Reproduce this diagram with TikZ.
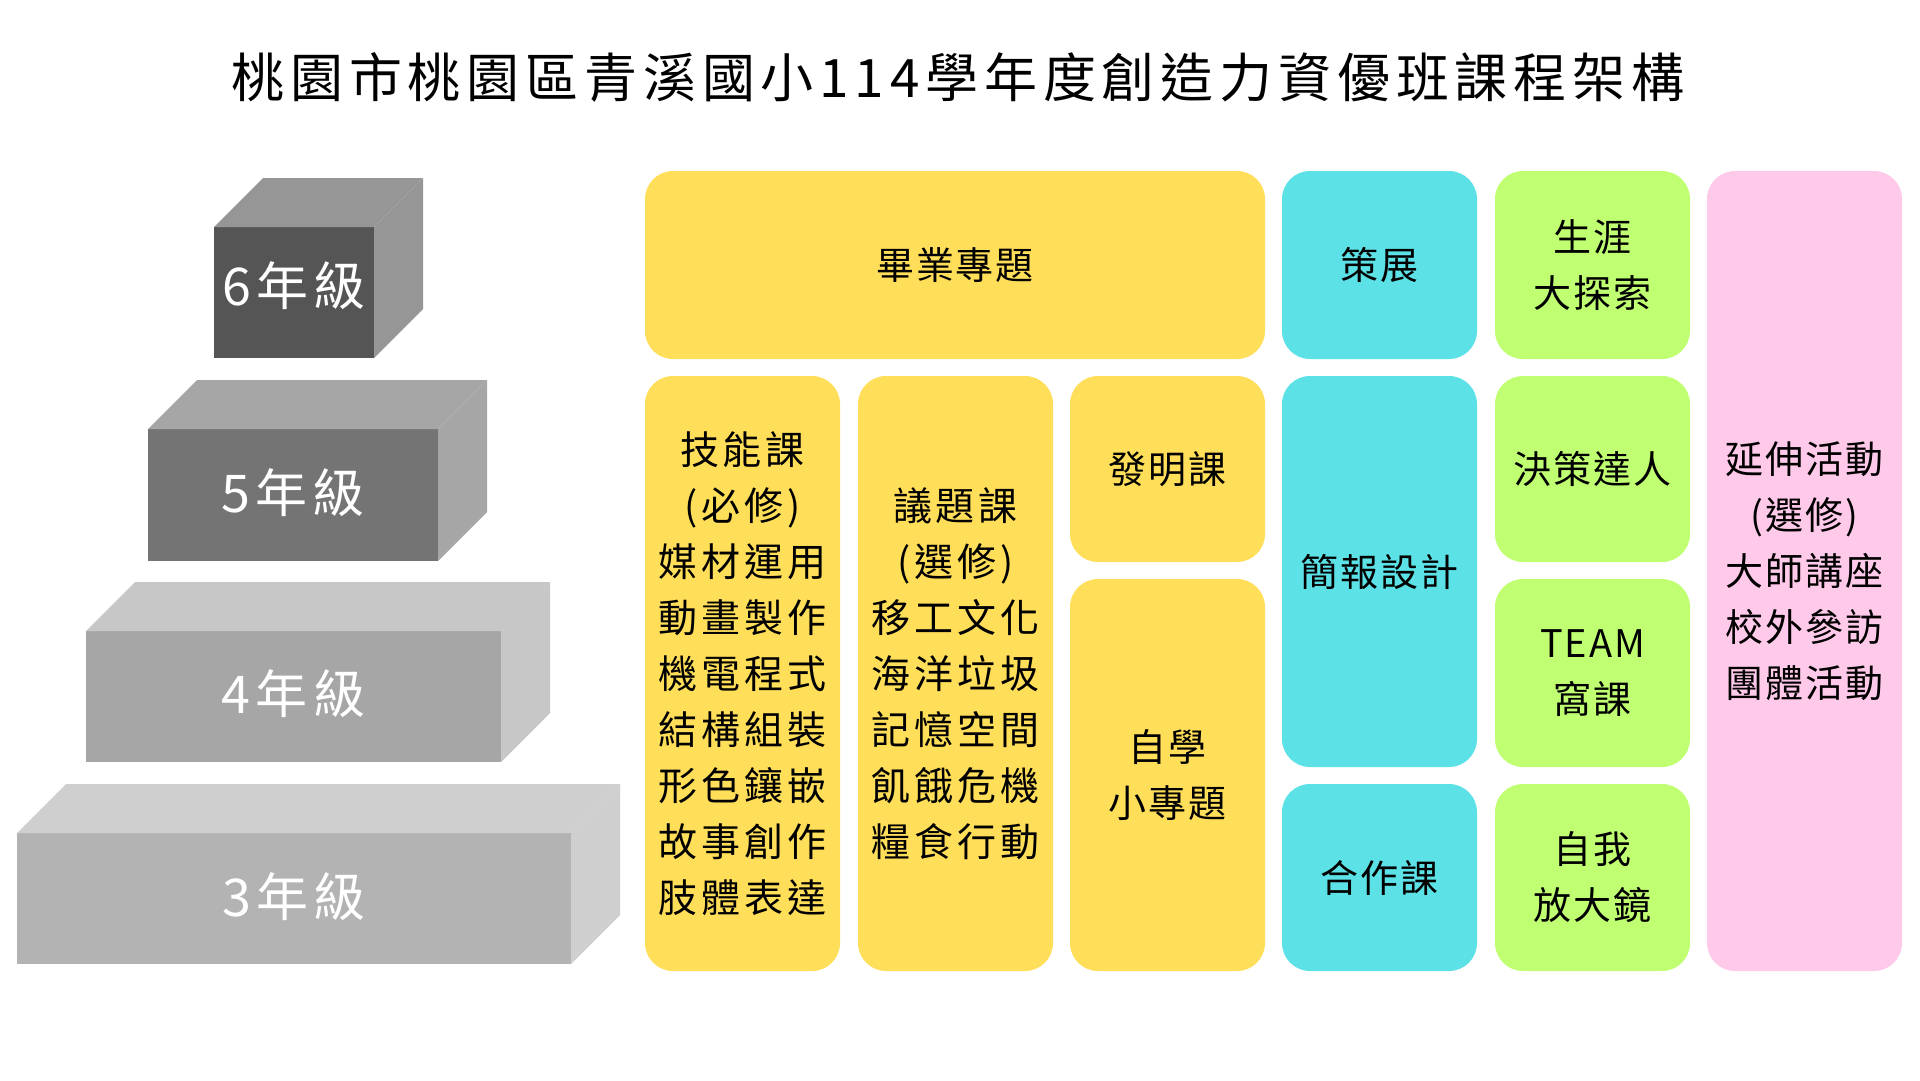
\documentclass[tikz,border=0pt]{standalone}
\usepackage{fontspec}
\setmainfont{Noto Sans CJK TC}
\newfontfamily\titlefam{Noto Sans CJK TC}[LetterSpace=11]
\newfontfamily\widefam{Noto Sans CJK TC}[LetterSpace=10]
\newfontfamily\narrowfam{Noto Sans CJK TC}[LetterSpace=5]
\newfontfamily\gradefam{Noto Sans CJK TC}[LetterSpace=10]
\newcommand\titletext{\titlefam\fontsize{53}{60}\selectfont}
\newcommand\widetext{\widefam\fontsize{39}{56}\selectfont}
\newcommand\narrowtext{\narrowfam\fontsize{38}{56}\selectfont}
\newcommand\gradetext{\gradefam\fontsize{52}{60}\selectfont}
\definecolor{cyY}{HTML}{FFDE59}
\definecolor{cyC}{HTML}{5CE1E6}
\definecolor{cyG}{HTML}{C1FF72}
\definecolor{cyP}{HTML}{FFCAE9}
\definecolor{gsixf}{HTML}{555555}
\definecolor{gsixs}{HTML}{969696}
\definecolor{gfivef}{HTML}{747474}
\definecolor{gfives}{HTML}{A6A6A6}
\definecolor{gfourf}{HTML}{A6A6A6}
\definecolor{gfours}{HTML}{C7C7C7}
\definecolor{gthreef}{HTML}{B3B3B3}
\definecolor{gthrees}{HTML}{CFCFCF}
\begin{document}
\begin{tikzpicture}[x=1pt,y=-1pt,
  cbox/.style={rectangle, rounded corners=28pt, inner sep=0pt, outer sep=0pt,
    align=center, text=black, font=\narrowtext, minimum width=195pt},
  widebox/.style={cbox, font=\widetext},
  front/.style={rectangle, inner sep=0pt, outer sep=0pt},
  gradelabel/.style={inner sep=0pt, text=white, font=\gradetext}]
\fill[white] (0,0) rectangle (1920,1080);
\useasboundingbox (0,0) rectangle (1920,1080);

% title
\node[font=\titletext, text=black, inner sep=0pt] (title) at (958,77) {桃園市桃園區青溪國小114學年度創造力資優班課程架構};

% grade blocks
\node[front, fill=gthreef, minimum width=554pt, minimum height=131pt] (g3) at (294,898.5) {};
\fill[gthrees] (g3.north west) -- ++(49,-49) -- ([shift={(49,-49)}]g3.north east) -- (g3.north east) -- cycle;
\fill[gthrees] (g3.north east) -- ++(49,-49) -- ([shift={(49,-49)}]g3.south east) -- (g3.south east) -- cycle;
\node[gradelabel] (t3) at ([yshift=1.5pt]g3.center) {3年級};

\node[front, fill=gfourf, minimum width=415pt, minimum height=131pt] (g4) at (293.5,696.5) {};
\fill[gfours] (g4.north west) -- ++(49,-49) -- ([shift={(49,-49)}]g4.north east) -- (g4.north east) -- cycle;
\fill[gfours] (g4.north east) -- ++(49,-49) -- ([shift={(49,-49)}]g4.south east) -- (g4.south east) -- cycle;
\node[gradelabel] (t4) at ([yshift=2.5pt]g4.center) {4年級};

\node[front, fill=gfivef, minimum width=290pt, minimum height=132pt] (g5) at (293,495) {};
\fill[gfives] (g5.north west) -- ++(49,-49) -- ([shift={(49,-49)}]g5.north east) -- (g5.north east) -- cycle;
\fill[gfives] (g5.north east) -- ++(49,-49) -- ([shift={(49,-49)}]g5.south east) -- (g5.south east) -- cycle;
\node[gradelabel] (t5) at ([yshift=2.5pt]g5.center) {5年級};

\node[front, fill=gsixf, minimum width=160pt, minimum height=131pt] (g6) at (294,292.5) {};
\fill[gsixs] (g6.north west) -- ++(49,-49) -- ([shift={(49,-49)}]g6.north east) -- (g6.north east) -- cycle;
\fill[gsixs] (g6.north east) -- ++(49,-49) -- ([shift={(49,-49)}]g6.south east) -- (g6.south east) -- cycle;
\node[gradelabel] (t6) at ([yshift=7pt]g6.center) {6年級};

% yellow boxes
\node[cbox, fill=cyY, minimum width=620pt, minimum height=188pt] (grad) at (955,265) {畢業專題};
\node[widebox, fill=cyY, minimum height=595pt] (skill) at (742.5,673.5)
  {技能課\\(必修)\\媒材運用\\動畫製作\\機電程式\\結構組裝\\形色鑲嵌\\故事創作\\肢體表達};
\node[widebox, fill=cyY, minimum height=595pt] (issue) at (955.5,673.5)
  {議題課\\(選修)\\移工文化\\海洋垃圾\\記憶空間\\飢餓危機\\糧食行動};
\node[cbox, fill=cyY, minimum height=186pt] (invent) at (1167.5,469) {發明課};
\node[cbox, fill=cyY, minimum height=392pt] (selfstudy) at (1167.5,775) {自學\\小專題};

% cyan boxes
\node[cbox, fill=cyC, minimum height=188pt] (curate) at (1379.5,265) {策展};
\node[cbox, fill=cyC, minimum height=391pt] (present) at (1379.5,571.5) {簡報設計};
\node[cbox, fill=cyC, minimum height=187pt] (coop) at (1379.5,877.5) {合作課};

% green boxes
\node[cbox, fill=cyG, minimum height=188pt] (career) at (1592.5,265) {生涯\\大探索};
\node[cbox, fill=cyG, minimum height=186pt] (decide) at (1592.5,469) {決策達人};
\node[cbox, fill=cyG, minimum height=188pt] (team) at (1592.5,673) {TEAM\\窩課};
\node[cbox, fill=cyG, minimum height=187pt] (mirror) at (1592.5,877.5) {自我\\放大鏡};

% pink box
\node[cbox, fill=cyP, minimum height=800pt] (extend) at (1804.5,571)
  {延伸活動\\(選修)\\大師講座\\校外參訪\\團體活動};
\end{tikzpicture}
\end{document}
